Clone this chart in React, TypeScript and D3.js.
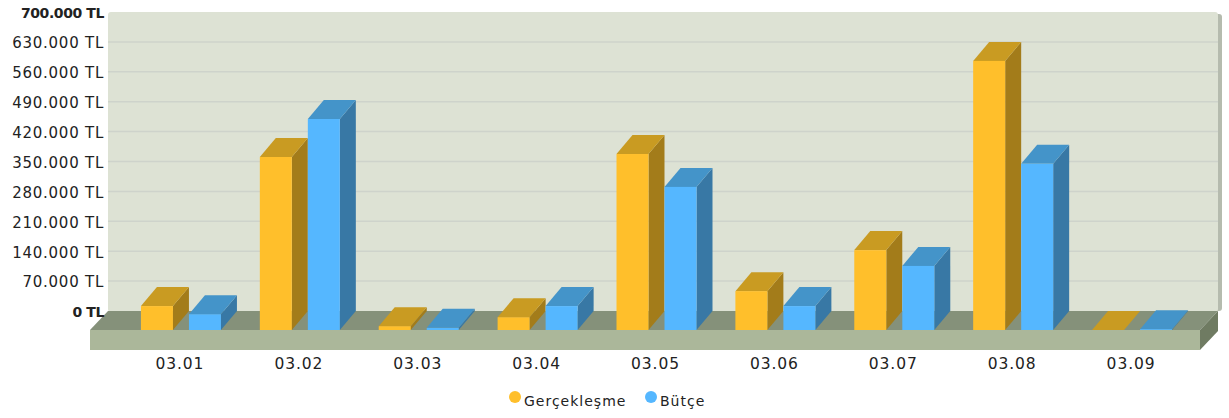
import * as d3 from "d3";
import React, { useEffect, useRef } from "react";

const categories = ["03.01", "03.02", "03.03", "03.04", "03.05", "03.06", "03.07", "03.08", "03.09"];
const seriesNames = ["Gerçekleşme", "Bütçe"];
const gerceklesme = [56000, 405000, 9000, 30000, 412000, 91000, 187000, 630000, 0];
const butce = [37000, 494000, 5000, 56000, 335000, 56000, 150000, 389000, 2000];
const yTicks = [0, 70000, 140000, 210000, 280000, 350000, 420000, 490000, 560000, 630000, 700000];

const orange = { front: "#ffbf2b", top: "#c99b22", side: "#a37c1a" };
const blue = { front: "#55b7ff", top: "#4494c9", side: "#3878a5" };

const WIDTH = 1229;
const HEIGHT = 418;
const DX = 18; // floor depth
const DY = 19;
const BAR_DX = 16; // bars are a bit shallower than the floor
const FONT = "'DejaVu Sans', sans-serif";

const App: React.FC = () => {
  const svgRef = useRef<SVGSVGElement>(null);

  useEffect(() => {
    const svg = d3.select(svgRef.current);
    svg.selectAll("*").remove();

    const left = 90;
    const right = 1200;
    const baseY = 330;
    const topY = 31;
    const plateH = 20;

    const x0 = d3.scaleBand().domain(categories).range([121.5, 1191.5]);
    const x1 = d3.scaleBand().domain(seriesNames).range([-40, 40]).paddingInner(1 / 3);
    const yFront = d3.scaleLinear().domain([0, 700000]).range([baseY, topY]);
    const yBack = d3.scaleLinear().domain([0, 700000]).range([baseY - DY, topY - DY]);

    const poly = (pts: [number, number][]) => d3.line()(pts) + "Z";

    // back wall + right shadow
    svg.append("rect").attr("x", left + DX + 4).attr("y", topY - DY + 2).attr("width", right - left).attr("height", baseY - topY - 2).attr("rx", 3).attr("fill", "#b5bbae");
    svg.append("rect").attr("x", left + DX).attr("y", topY - DY).attr("width", right - left).attr("height", baseY - topY + 1).attr("rx", 3).attr("fill", "#dde2d4");

    // grid
    svg
      .append("g")
      .selectAll("line")
      .data(yTicks.slice(1, -1))
      .join("line")
      .attr("x1", left + DX)
      .attr("x2", right + DX)
      .attr("y1", (d) => yBack(d))
      .attr("y2", (d) => yBack(d))
      .attr("stroke", "#ced3cb")
      .attr("stroke-width", 1.5);

    // floor
    svg.append("path").attr("d", poly([[left, baseY], [left + DX, baseY - DY], [right + DX, baseY - DY], [right, baseY]])).attr("fill", "#85917a");
    svg.append("path").attr("d", poly([[right, baseY], [right + DX, baseY - DY], [right + DX, baseY - DY + plateH], [right, baseY + plateH]])).attr("fill", "#6f7b62");
    svg.append("rect").attr("x", left).attr("y", baseY).attr("width", right - left).attr("height", plateH).attr("fill", "#abb79a");

    // y axis
    const yAxis = d3
      .axisLeft(yBack)
      .tickValues(yTicks)
      .tickSize(0)
      .tickPadding(0)
      .tickFormat((d) => d3.format(",")(d as number).replace(/,/g, ".") + " TL");
    const yG = svg.append("g").attr("transform", "translate(104,1)").call(yAxis);
    yG.select(".domain").remove();
    yG.selectAll("text")
      .attr("font-family", FONT)
      .attr("fill", "#222")
      .attr("font-size", (d) => (d === 0 || d === 700000 ? 14 : 15))
      .attr("font-weight", (d) => (d === 0 || d === 700000 ? "bold" : "normal"))
      .attr("letter-spacing", (d) => (d === 0 || d === 700000 ? -0.4 : 0.75));

    // x axis
    const xAxis = d3.axisBottom(x0).tickSize(0).tickPadding(0);
    const xG = svg.append("g").attr("transform", "translate(-1,358)").call(xAxis);
    xG.select(".domain").remove();
    xG.selectAll("text").attr("font-family", FONT).attr("font-size", 15.5).attr("letter-spacing", 0.9).attr("fill", "#222");

    // bars
    const series = [
      { name: seriesNames[0], values: gerceklesme, color: orange },
      { name: seriesNames[1], values: butce, color: blue },
    ];
    categories.forEach((cat, i) => {
      const cx = x0(cat)! + x0.bandwidth() / 2;
      series.forEach((s) => {
        const xa = cx + x1(s.name)!;
        const xb = xa + x1.bandwidth();
        const yt = yFront(s.values[i]);
        const g = svg.append("g");
        g.append("path").attr("d", poly([[xb, baseY], [xb + BAR_DX, baseY - DY], [xb + BAR_DX, yt - DY], [xb, yt]])).attr("fill", s.color.side);
        g.append("path").attr("d", poly([[xa, yt], [xa + BAR_DX, yt - DY], [xb + BAR_DX, yt - DY], [xb, yt]])).attr("fill", s.color.top);
        g.append("rect").attr("x", xa).attr("y", yt).attr("width", xb - xa).attr("height", baseY - yt).attr("fill", s.color.front);
      });
    });

    // legend
    const legendX = [515, 651];
    series.forEach((s, i) => {
      svg.append("circle").attr("cx", legendX[i]).attr("cy", 397).attr("r", 6).attr("fill", s.color.front);
      svg
        .append("text")
        .attr("x", legendX[i] + 9)
        .attr("y", 406)
        .attr("font-family", FONT)
        .attr("font-size", 14)
        .attr("letter-spacing", 1)
        .attr("fill", "#222")
        .text(s.name);
    });
  }, []);

  return <svg ref={svgRef} width={WIDTH} height={HEIGHT} style={{ position: "absolute", left: 0, top: 0, background: "#fff" }} />;
};

export default App;
